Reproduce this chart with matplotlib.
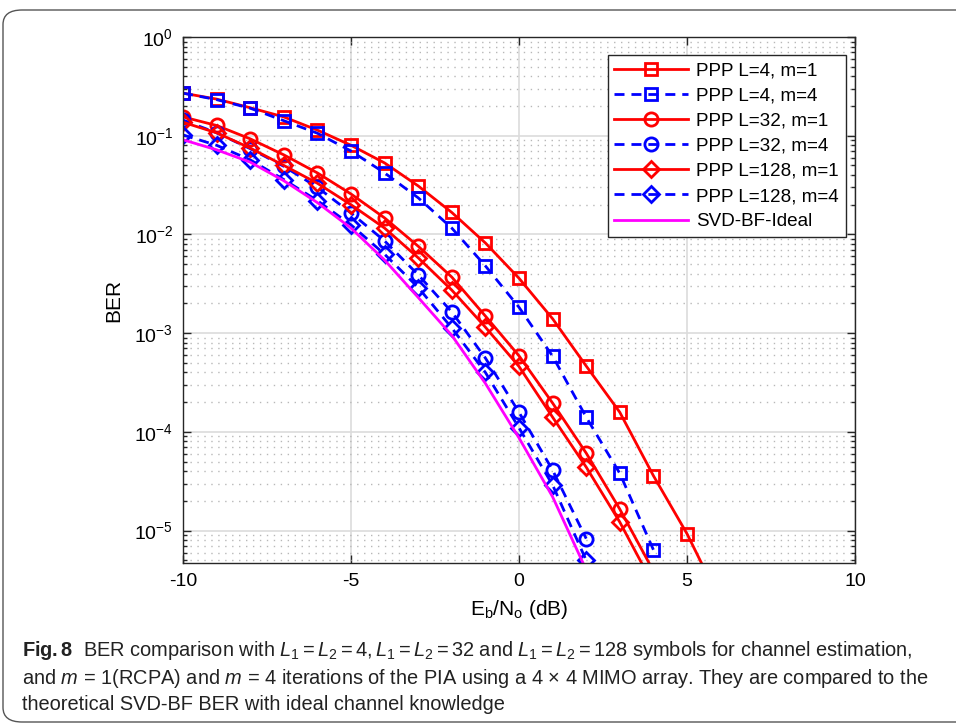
import matplotlib
matplotlib.use("Agg")
import matplotlib.pyplot as plt
from matplotlib.patches import FancyBboxPatch
from matplotlib.ticker import LogLocator, NullFormatter, FixedLocator

plt.rcParams['font.family'] = ['Liberation Sans', 'DejaVu Sans']
plt.rcParams['mathtext.fontset'] = 'custom'
plt.rcParams['mathtext.rm'] = 'Liberation Sans'
plt.rcParams['mathtext.it'] = 'Liberation Sans:italic'
plt.rcParams['mathtext.bf'] = 'Liberation Sans:bold'
plt.rcParams['axes.unicode_minus'] = False

# ---- data ----
x_l4m1 = [-10, -9, -8, -7, -6, -5, -4, -3, -2, -1, 0, 1, 2, 3, 4, 5, 6]
ber_l4m1 = [0.27, 0.235, 0.192, 0.155, 0.114, 0.080, 0.053, 0.031, 0.0167, 0.0082,
            0.0036, 1.40e-3, 4.65e-4, 1.58e-4, 3.6e-5, 9.3e-6, 1.9e-6]

x_l4m4 = [-10, -9, -8, -7, -6, -5, -4, -3, -2, -1, 0, 1, 2, 3, 4]
ber_l4m4 = [0.27, 0.232, 0.19, 0.142, 0.106, 0.070, 0.042, 0.0235, 0.0116, 0.0048,
            1.83e-3, 5.85e-4, 1.41e-4, 3.8e-5, 6.4e-6]

x_l32m1 = [-10, -9, -8, -7, -6, -5, -4, -3, -2, -1, 0, 1, 2, 3, 4]
ber_l32m1 = [0.155, 0.127, 0.093, 0.064, 0.042, 0.0257, 0.0147, 0.0076, 0.0037, 1.49e-3,
             5.9e-4, 1.96e-4, 6.1e-5, 1.65e-5, 3.9e-6]

x_l32m4 = [-10, -9, -8, -7, -6, -5, -4, -3, -2, -1, 0, 1, 2]
ber_l32m4 = [0.144, 0.107, 0.074, 0.049, 0.030, 0.0165, 0.0086, 0.0039, 1.64e-3, 5.6e-4,
             1.58e-4, 4.1e-5, 8.3e-6]

x_l128m1 = [-10, -9, -8, -7, -6, -5, -4, -3, -2, -1, 0, 1, 2, 3, 4]
ber_l128m1 = [0.137, 0.107, 0.075, 0.050, 0.033, 0.020, 0.0116, 0.0058, 2.73e-3, 1.15e-3,
              4.6e-4, 1.41e-4, 4.4e-5, 1.22e-5, 2.8e-6]

x_l128m4 = [-10, -9, -8, -7, -6, -5, -4, -3, -2, -1, 0, 1, 2]
ber_l128m4 = [0.102, 0.080, 0.057, 0.036, 0.022, 0.0125, 0.0063, 0.0029, 1.13e-3, 4.0e-4,
              1.1e-4, 2.9e-5, 5.0e-6]

x_svd = [-10, -9, -8, -7, -6, -5, -4, -3, -2, -1, 0, 1, 2]
ber_svd = [0.091, 0.072, 0.054, 0.035, 0.021, 0.0116, 0.0055, 0.0023, 9.5e-4, 3.1e-4,
           8.7e-5, 2.2e-5, 4.0e-6]

labels = ['PPP L=4, m=1', 'PPP L=4, m=4', 'PPP L=32, m=1', 'PPP L=32, m=4',
          'PPP L=128, m=1', 'PPP L=128, m=4', 'SVD-BF-Ideal']
xticks = [-10, -5, 0, 5, 10]

# ---- figure ----
fig = plt.figure(figsize=(9.56, 7.25), dpi=100)
fig.patches.append(FancyBboxPatch((3 / 956, 3 / 725), 1.2, (715 - 3) / 725,
                                  boxstyle="round,pad=0,rounding_size=0.02",
                                  transform=fig.transFigure, fill=False,
                                  edgecolor='#555555', linewidth=1.0, clip_on=False))
ax = fig.add_axes([183 / 956, 1 - 563 / 725, (855 - 183) / 956, (563 - 37) / 725])

red = '#ff0000'
blue = '#0000ff'
mag = '#ff00ff'
lw = 2.0
ms = 8.5
dash = (0, (3.6, 2.5))

ax.plot(x_l4m1, ber_l4m1, color=red, lw=lw, marker='s', ms=ms, mfc='none', mew=2, label=labels[0])
ax.plot(x_l4m4, ber_l4m4, color=blue, lw=lw, ls=dash, marker='s', ms=ms, mfc='none', mew=2, label=labels[1])
ax.plot(x_l32m1, ber_l32m1, color=red, lw=lw, marker='o', ms=ms + 1, mfc='none', mew=2, label=labels[2])
ax.plot(x_l32m4, ber_l32m4, color=blue, lw=lw, ls=dash, marker='o', ms=ms + 1, mfc='none', mew=2, label=labels[3])
ax.plot(x_l128m1, ber_l128m1, color=red, lw=lw, marker='D', ms=ms - 0.5, mfc='none', mew=2, label=labels[4])
ax.plot(x_l128m4, ber_l128m4, color=blue, lw=lw, ls=dash, marker='D', ms=ms - 0.5, mfc='none', mew=2, label=labels[5])
ax.plot(x_svd, ber_svd, color=mag, lw=lw, label=labels[6])

ax.set_yscale('log')
ax.set_xlim(-10, 10)
ax.set_ylim(4.7e-6, 1)
ax.xaxis.set_major_locator(FixedLocator(xticks))
ax.set_xticklabels([str(v) for v in xticks])
ax.yaxis.set_major_locator(LogLocator(base=10, numticks=20))
ax.yaxis.set_minor_locator(LogLocator(base=10, subs=range(2, 10), numticks=20))
ax.yaxis.set_minor_formatter(NullFormatter())

ax.grid(True, which='major', color='#dcdcdc', lw=1.2, ls='-')
ax.grid(True, which='minor', axis='y', color='#b8b8b8', lw=1.0, ls=(0, (1, 4)))
ax.set_axisbelow(True)

ax.tick_params(which='both', direction='in', top=True, right=True, labelsize=14,
               width=1.0, color='#262626')
ax.tick_params(which='major', length=6, pad=7)
ax.tick_params(which='minor', length=3)
for sp in ax.spines.values():
    sp.set_color('#262626')
    sp.set_linewidth(1.0)

ax.set_xlabel(r'E$_\mathregular{b}$/N$_\mathregular{o}$ (dB)', fontsize=15, labelpad=6)
ax.set_ylabel('BER', fontsize=15, labelpad=8)

leg = ax.legend(loc='upper right', bbox_to_anchor=(0.986, 0.965), fontsize=13.6,
                frameon=True, fancybox=False, framealpha=1, edgecolor='#262626',
                handlelength=3.9, borderpad=0.35, labelspacing=0.42, handletextpad=0.45,
                borderaxespad=0.0)
leg.get_frame().set_linewidth(1.0)

# caption
cap_font = ['Liberation Sans Narrow', 'Liberation Sans', 'DejaVu Sans']
cfs = 14.4
fig.text(22 / 956, 1 - 651 / 725,
         r'$\mathbf{Fig. 8}$  BER comparison with $L_1 = L_2 = 4, L_1 = L_2 = 32$ and $L_1 = L_2 = 128$ symbols for channel estimation,',
         fontsize=cfs, va='center', ha='left', family=cap_font, color='#222222')
fig.text(22 / 956, 1 - 678 / 725,
         r'and $m$ = 1(RCPA) and $m$ = 4 iterations of the PIA using a 4 $\times$ 4 MIMO array. They are compared to the',
         fontsize=cfs, va='center', ha='left', family=cap_font, color='#222222')
fig.text(22 / 956, 1 - 705 / 725,
         'theoretical SVD-BF BER with ideal channel knowledge',
         fontsize=cfs, va='center', ha='left', family=cap_font, color='#222222')

fig.savefig('out.png', dpi=100)
